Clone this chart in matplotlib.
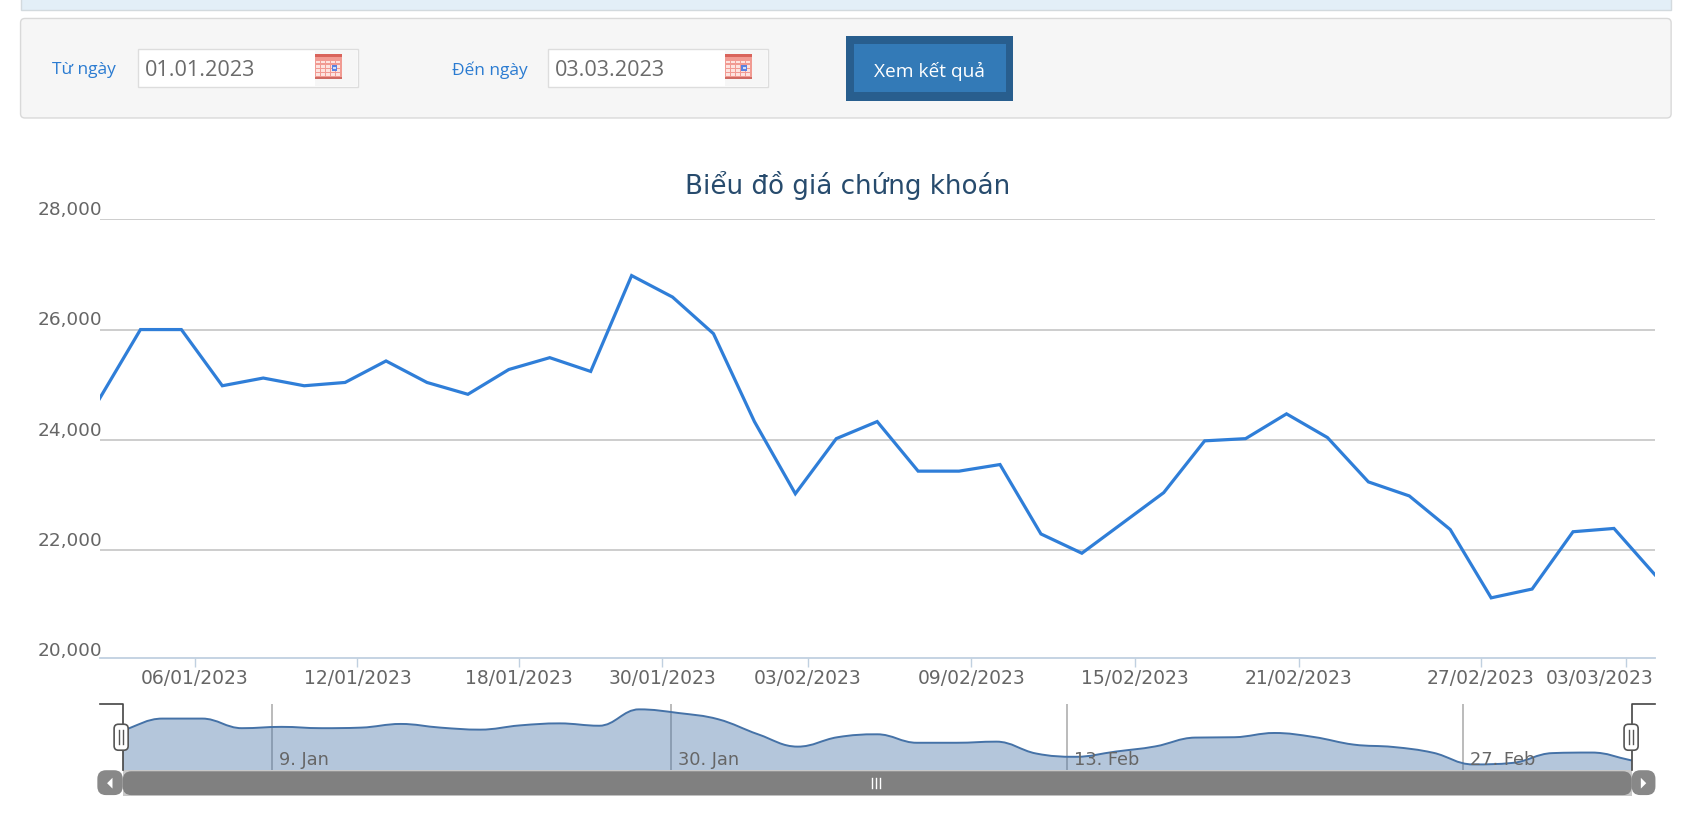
"""
Biểu đồ giá chứng khoán: form lọc ngày, đường giá và thanh navigator.
"""

import matplotlib
matplotlib.use("Agg")
import matplotlib.pyplot as plt
from matplotlib.patches import FancyBboxPatch, PathPatch, Polygon, Rectangle
from matplotlib.path import Path
from matplotlib.transforms import ScaledTranslation

plt.rcParams["font.family"] = ["DejaVu Sans"]

PRICES = [24745, 26000, 26000, 24980, 25120, 24980, 25040, 25430, 25040, 24825,
          25275, 25490, 25240, 26980, 26590, 25925, 24330, 23020, 24020, 24330,
          23430, 23430, 23550, 22290, 21940, 22490, 23040, 23980, 24020, 24470,
          24040, 23235, 22980, 22370, 21130, 21290, 22330, 22390, 21550]

Y_TICKS = [20000, 22000, 24000, 26000, 28000]

TICK_POS = [2.33, 6.3, 10.25, 13.75, 17.3, 21.3, 25.3, 29.3, 33.75, 37.3]
TICK_LABELS = ["06/01/2023", "12/01/2023", "18/01/2023", "30/01/2023", "03/02/2023",
               "09/02/2023", "15/02/2023", "21/02/2023", "27/02/2023", "03/03/2023"]

NAV_POS = [3.76, 13.8, 23.77, 33.76]
NAV_LABELS = ["9. Jan", "30. Jan", "13. Feb", "27. Feb"]

W, H = 1568, 765.5  # toa do doc tu anh, nhan ty le khi luu
SHIFT = 1  # ca trang lech xuong 1 px


def ax_box(fig, x0, y0, x1, y1, **kw):
    return fig.add_axes([x0 / W, 1 - (y1 + SHIFT) / H, (x1 - x0) / W, (y1 - y0) / H], **kw)


def spline_path(xs, ys, smoothing=1.5):
    """Duong cong kieu areaspline qua dung cac diem du lieu."""
    n = len(xs)
    left, right = [], []
    for i in range(n):
        a, b = max(i - 1, 0), min(i + 1, n - 1)
        lx = (smoothing * xs[i] + xs[a]) / (smoothing + 1)
        ly = (smoothing * ys[i] + ys[a]) / (smoothing + 1)
        rx = (smoothing * xs[i] + xs[b]) / (smoothing + 1)
        ry = (smoothing * ys[i] + ys[b]) / (smoothing + 1)
        if rx > lx:
            corr = (ry - ly) * (rx - xs[i]) / (rx - lx) + ys[i] - ry
            ly += corr
            ry += corr
        # khong cho diem dieu khien vuot qua cuc tri
        if ly > max(ys[a], ys[i]):
            ly = max(ys[a], ys[i])
            ry = 2 * ys[i] - ly
        elif ly < min(ys[a], ys[i]):
            ly = min(ys[a], ys[i])
            ry = 2 * ys[i] - ly
        if ry > max(ys[b], ys[i]):
            ry = max(ys[b], ys[i])
            ly = 2 * ys[i] - ry
        elif ry < min(ys[b], ys[i]):
            ry = min(ys[b], ys[i])
            ly = 2 * ys[i] - ry
        left.append((lx, ly))
        right.append((rx, ry))
    verts = [(xs[0], ys[0])]
    codes = [Path.MOVETO]
    for i in range(n - 1):
        verts += [right[i], left[i + 1], (xs[i + 1], ys[i + 1])]
        codes += [Path.CURVE4] * 3
    return verts, codes


def box(bg, x0, y0, x1, y1, fc, ec="none", lw=1.0, r=0, z=1):
    if r:
        p = FancyBboxPatch((x0, y0), x1 - x0, y1 - y0, boxstyle=f"round,pad=0,rounding_size={r}",
                           fc=fc, ec=ec, lw=lw, zorder=z)
    else:
        p = Rectangle((x0, y0), x1 - x0, y1 - y0, fc=fc, ec=ec, lw=lw, zorder=z)
    bg.add_patch(p)


def calendar_icon(bg, x, y):
    box(bg, x, y, x + 25, y + 23, "#f19a92", z=3)
    box(bg, x, y, x + 25, y + 3, "#d9635b", z=3)
    box(bg, x, y + 21.5, x + 25, y + 23, "#cf6a62", z=3)
    for cx in range(5):
        for cy in range(4):
            box(bg, x + 1.5 + cx * 4.6, y + 6 + cy * 3.9, x + 1.5 + cx * 4.6 + 3.2,
                y + 6 + cy * 3.9 + 2.6, "#fde3df", z=4)
    box(bg, x + 15.5, y + 10, x + 21, y + 15.5, "#5b82e0", z=5)
    box(bg, x + 17.2, y + 11.7, x + 19.3, y + 13.8, "#cfdcf8", z=6)


def draw_form(bg):
    box(bg, 19, -5, 1545, 9, "#e3eff7", "#d3dade", 1.0)
    box(bg, 19, 17, 1545, 109, "#f6f6f6", "#d9d9d9", 1.0, r=4)
    for lab, lx, val, bx in [("Từ ngày", 48, "01.01.2023", 128), ("Đến ngày", 418, "03.03.2023", 507)]:
        bg.text(lx, 64, lab, color="#2a7bd1", fontsize=12.5, va="center", family="Open Sans")
        box(bg, bx, 45, bx + 203, 80, "white", "#dddddd", 1.0, z=2)
        box(bg, bx + 163, 46, bx + 202, 79, "#f6f6f6", z=2)
        bg.text(bx + 6, 64.5, val, color="#6b6b6b", fontsize=15.6, va="center", family="Open Sans", zorder=3)
        calendar_icon(bg, bx + 163, 50)
    box(bg, 782, 33, 937, 93, "#285e8e")
    box(bg, 790, 41, 930, 85, "#337ab7", z=2)
    bg.text(859.5, 65, "Xem kết quả", color="white", fontsize=13.8, ha="center", va="center",
            family="Open Sans", zorder=3)


def draw_main(fig):
    ax = ax_box(fig, 92, 202.75, 1530, 610.2)
    ax.patch.set_alpha(0)
    ax.set_xlim(0, len(PRICES) - 1)
    ax.set_ylim(20000, 28000)
    ax.plot(range(len(PRICES)), PRICES, color="#2f7ed8", lw=2.3, solid_joinstyle="miter", zorder=3)
    for s in ["top", "left", "right"]:
        ax.spines[s].set_visible(False)
    ax.spines["bottom"].set_color("#c0d0e0")
    ax.spines["bottom"].set_linewidth(1.3)
    ax.spines["bottom"].set_position(("outward", -1.3))
    ax.set_yticks(Y_TICKS)
    ax.set_yticklabels([f"{v:,}" for v in Y_TICKS], va="bottom")
    ax.grid(axis="y", color="#c0c0c0", lw=1.1, zorder=1)
    ax.get_ygridlines()[0].set_visible(False)
    ax.tick_params(axis="y", length=0, pad=-2, labelsize=13.3, labelcolor="#666666")
    ax.set_xticks(TICK_POS)
    ax.set_xticklabels(TICK_LABELS)
    ax.tick_params(axis="x", length=6.5, width=1, color="#c0d0e0", pad=0.5, labelsize=13.5, labelcolor="#666666")
    for lab in ax.get_xticklabels() + ax.get_yticklabels():
        lab.set_clip_on(False)
    up = ScaledTranslation(0, 0.012, fig.dpi_scale_trans)
    for lab in ax.get_yticklabels():
        lab.set_transform(lab.get_transform() + up)
    # nhan cuoi bi day vao trong, khong tran ra ngoai vung ve
    last = ax.get_xticklabels()[-1]
    last.set_transform(last.get_transform() + ScaledTranslation(-27 / 100, 0, fig.dpi_scale_trans))
    ax.set_title("Biểu đồ giá chứng khoán", color="#274b6d", fontsize=18.8, pad=19.2, x=0.481)


def draw_navigator(fig):
    nav = ax_box(fig, 113.5, 651, 1508.5, 712)
    nav.set_xlim(0, len(PRICES) - 1)
    nav.set_ylim(20513, 27525)
    nav.patch.set_alpha(0)
    nav.axis("off")
    for p, lab in zip(NAV_POS, NAV_LABELS):
        nav.axvline(p, color="#a8a8a8", lw=1.1, zorder=1)
        nav.annotate(lab, (p, 20513), xytext=(5, 4.7), textcoords="offset points",
                     color="#666666", fontsize=12.8, annotation_clip=False, zorder=5)
    xs = list(range(len(PRICES)))
    verts, codes = spline_path(xs, PRICES)
    area_verts = verts + [(xs[-1], 20513), (xs[0], 20513), (xs[0], PRICES[0])]
    area_codes = codes + [Path.LINETO, Path.LINETO, Path.CLOSEPOLY]
    nav.add_patch(PathPatch(Path(area_verts, area_codes), fc="#4572a7", ec="none", alpha=0.4, zorder=2))
    nav.add_patch(PathPatch(Path(verts, codes), fc="none", ec="#4572a7", lw=1.4, zorder=3))


def draw_scroller(bg):
    dark = "#444444"
    bg.plot([92, 113.5, 113.5], [651, 651, 712], color=dark, lw=1.2, zorder=6)
    bg.plot([1530, 1508.5, 1508.5], [651, 651, 712], color=dark, lw=1.2, zorder=6)
    for hx in [112, 1508]:
        box(bg, hx - 6.5, 669.5, hx + 6.5, 693.5, "white", "#555555", 1.2, r=4, z=7)
        for dx in [-1.7, 1.7]:
            bg.plot([hx + dx, hx + dx], [675, 688], color="#555555", lw=1.0, zorder=8)
    box(bg, 113.5, 711.5, 1508.5, 736, "#c8c8c8", z=5)
    box(bg, 90, 712, 113.5, 735, "#888888", r=8, z=6)
    box(bg, 1508.5, 712, 1530.5, 735, "#888888", r=8, z=6)
    box(bg, 113.5, 713, 1508.5, 735, "#808080", r=8, z=7)
    for dx in [-4, 0, 4]:
        bg.plot([810 + dx, 810 + dx], [719, 728], color="white", lw=1.0, zorder=8)
    bg.add_patch(Polygon([(104, 719), (104, 729), (99, 724)], fc="white", ec="none", zorder=8))
    bg.add_patch(Polygon([(1517, 719), (1517, 729), (1522, 724)], fc="white", ec="none", zorder=8))


def main():
    fig = plt.figure(figsize=(16.96, 8.28), dpi=100, facecolor="white")
    bg = fig.add_axes([0, 0, 1, 1])
    bg.set_xlim(0, W)
    bg.set_ylim(H - SHIFT, -SHIFT)
    bg.axis("off")
    draw_form(bg)
    draw_main(fig)
    draw_navigator(fig)
    over = fig.add_axes([0, 0, 1, 1])
    over.set_xlim(0, W)
    over.set_ylim(H - SHIFT, -SHIFT)
    over.axis("off")
    over.patch.set_alpha(0)
    draw_scroller(over)
    fig.savefig("out.png", dpi=100)
    plt.close(fig)


if __name__ == "__main__":
    main()
